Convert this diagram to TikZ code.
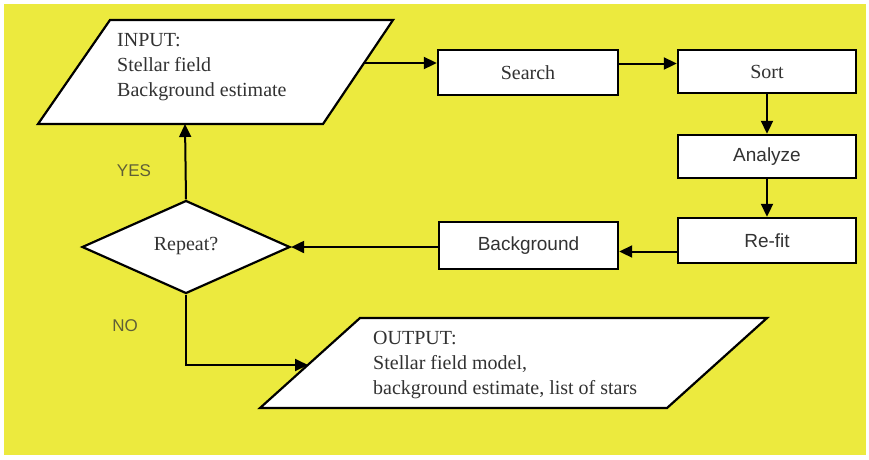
\documentclass[tikz,border=0pt]{standalone}
\usepackage{fontspec}
\setmainfont{Liberation Serif}
\setsansfont{Liberation Sans}
\usetikzlibrary{arrows.meta,shapes.geometric}
\definecolor{bgyellow}{RGB}{236,234,62}
\definecolor{txtgray}{RGB}{50,50,50}
\definecolor{lblolive}{RGB}{95,95,55}
\tikzset{
  procbox/.style={draw=black,line width=2.4pt,fill=white,rectangle,inner sep=0pt,
    text=txtgray},
  serif/.style={font=\fontsize{20}{25}\selectfont\rmfamily},
  sans/.style={font=\fontsize{19}{24}\selectfont\sffamily},
  iobox/.style={draw=black,line width=2.2pt,fill=white,line join=miter},
  flow/.style={draw=black,line width=2pt,-{Triangle[length=13pt,width=12pt]}},
  lbl/.style={text=lblolive,font=\fontsize{17}{20}\selectfont\sffamily,inner sep=0pt}
}
\begin{document}
\begin{tikzpicture}[x=1pt,y=-1pt]
\useasboundingbox (0,0) rectangle (869,459);
\fill[white] (0,0) rectangle (869,459);
\fill[bgyellow] (4,4) rectangle (866,455);

% input parallelogram
\draw[iobox] (110,20) -- (393,20) -- (323,124) -- (38,124) -- cycle;
\node[serif,text=txtgray,anchor=north west,align=left,inner sep=0pt] (input) at (117,33)
  {INPUT:\\Stellar field\\Background estimate};
\coordinate (inR) at (363,63);
\coordinate (inB) at (185,124);

% output parallelogram
\draw[iobox] (360,318) -- (767,318) -- (667,408) -- (260,408) -- cycle;
\node[serif,text=txtgray,anchor=north west,align=left,inner sep=0pt] (output) at (373,331)
  {OUTPUT:\\Stellar field model,\\background estimate, list of stars};
\coordinate (outL) at (308,365);

% process boxes
\node[procbox,serif,minimum width=180pt,minimum height=45pt] (search) at (528,72.5) {Search};
\node[procbox,serif,minimum width=178pt,minimum height=43pt] (sort) at (767,71.5) {Sort};
\node[procbox,sans,minimum width=178pt,minimum height=43pt] (analyze) at (767,156.5) {Analyze};
\node[procbox,sans,minimum width=178pt,minimum height=45pt] (refit) at (767,240.5) {Re-fit};
\node[procbox,sans,minimum width=179pt,minimum height=47pt] (background) at (528.5,245.5) {Background};

% decision
\node[diamond,draw=black,line width=2.2pt,fill=white,minimum width=208pt,minimum height=93pt,
  inner sep=0pt,serif,text=txtgray] (repeat) at (186,247) {\raisebox{7pt}{Repeat?}};

% connectors
\draw[flow] (inR) -- (inR -| search.west);
\coordinate (sout) at ([yshift=9pt]search.east);
\draw[flow] (sout) -- (sout -| sort.west);
\draw[flow] (sort.south) -- (analyze.north);
\draw[flow] (analyze.south) -- (refit.north);
\coordinate (rfout) at ([yshift=-11pt]refit.west);
\draw[flow] (rfout) -- (rfout -| background.east);
\draw[flow] (repeat.east -| background.west) -- (repeat.east);
\draw[flow] (repeat.north) -- (inB);
\draw[flow] (repeat.south) |- (outL);

% labels
\node[lbl] (yes) at (134,171) {YES};
\node[lbl] (no) at (125,326) {NO};
\end{tikzpicture}
\end{document}
